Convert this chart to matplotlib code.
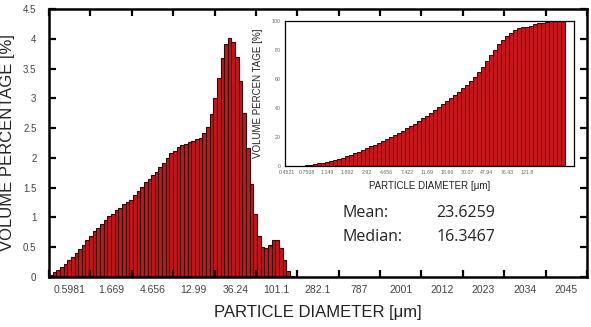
import numpy as np
import matplotlib.pyplot as plt
from matplotlib.ticker import FuncFormatter

# volume % per size channel (main histogram)
volume = [0.03, 0.08, 0.12, 0.16, 0.22, 0.29, 0.34, 0.40, 0.47, 0.54,
          0.62, 0.69, 0.77, 0.83, 0.89, 0.96, 1.02, 1.05, 1.12, 1.16,
          1.22, 1.26, 1.30, 1.37, 1.45, 1.51, 1.60, 1.65, 1.71, 1.77,
          1.85, 1.92, 2.00, 2.08, 2.12, 2.18, 2.21, 2.24, 2.26, 2.29,
          2.32, 2.34, 2.41, 2.52, 2.73, 3.00, 3.34, 3.67, 3.92, 4.02,
          3.94, 3.69, 3.29, 2.75, 2.16, 1.56, 1.05, 0.69, 0.51, 0.48,
          0.53, 0.62, 0.62, 0.49, 0.29, 0.10, 0.02]
main_labels = ['0.5981', '1.669', '4.656', '12.99', '36.24', '101.1', '282.1',
               '787', '2001', '2012', '2023', '2034', '2045']

# cumulative volume % (inset)
cumulative = [0, 0, 0, 0, 0.2, 0.5, 0.9, 1.2, 1.8, 2.3,
              2.8, 3.4, 4.0, 4.8, 5.5, 6.7, 7.6, 9.0, 9.9, 11.3,
              12.4, 13.6, 14.5, 16.1, 17.3, 18.6, 20.0, 21.4, 22.9, 24.4,
              26.0, 27.6, 29.3, 31.0, 32.8, 34.7, 36.6, 38.6, 40.6, 42.7,
              44.8, 46.9, 49.1, 51.3, 53.6, 56.0, 58.6, 61.4, 64.5, 68.0,
              72.4, 76.5, 80.0, 83.9, 86.9, 89.4, 91.9, 93.8, 94.9, 95.6,
              96.1, 96.8, 97.7, 98.4, 98.8, 99.1, 99.8, 99.8, 99.9, 100.0]
inset_labels = ['0.4521', '0.7508', '1.149', '1.892', '2.92', '4.656', '7.422',
                '11.69', '18.66', '30.07', '47.94', '76.43', '121.8']

stat_names = ['Mean:', 'Median:']
stat_values = ['23.6259', '16.3467']

red = '#c8141a'
edge = '#2b0808'
plt.rcParams['font.family'] = ['Liberation Sans', 'DejaVu Sans']

fig = plt.figure(figsize=(5.91, 3.27), dpi=100)

# main histogram
ax = fig.add_axes([0.0829, 0.1529, 0.9103, 0.8196])
x = np.arange(len(volume))
ax.bar(x, volume, width=1.0, color=red, edgecolor=edge, linewidth=0.8)
left, right = -0.5, 146.9
ax.set_xlim(left, right)
ax.set_ylim(0, 4.5)
step = (right - left) / len(main_labels)
edges = left + step * np.arange(len(main_labels) + 1)
ax.set_xticks(edges)
ax.set_xticklabels([])
ax.set_xticks(edges[:-1] + step / 2, minor=True)
ax.set_xticklabels(main_labels, minor=True)
ax.set_yticks(np.arange(0, 4.51, 0.5))
ax.yaxis.set_major_formatter(FuncFormatter(lambda v, p: '%g' % v))
ax.tick_params(which='major', direction='in', length=5, width=1.6,
               top=True, right=True, labelsize=7, labelcolor='#444444')
ax.tick_params(axis='y', pad=9)
ax.tick_params(axis='x', which='minor', length=0, pad=6,
               labelsize=7.5, labelcolor='#444444')
for s in ax.spines.values():
    s.set_linewidth(1.8)
ax.set_xlabel('PARTICLE DIAMETER [\u03bcm]', fontsize=12, labelpad=7, color='#222222')
ax.set_ylabel('VOLUME PERCENTAGE [%]', fontsize=12, labelpad=6, color='#222222')

# mean / median text
for i in range(len(stat_names)):
    yy = 0.349 - i * 0.0734
    fig.text(0.579, yy, stat_names[i], fontsize=11.5, family='Open Sans',
             color='#222222', va='center')
    fig.text(0.739, yy, stat_values[i], fontsize=11.5, family='Open Sans',
             color='#222222', va='center')

# inset cumulative
ins = fig.add_axes([0.4822, 0.4924, 0.489, 0.4434])
k = np.arange(len(cumulative))
ins.bar(k, cumulative, width=1.0, color=red, edgecolor=edge, linewidth=0.7)
ins.set_xlim(-0.5, 71.75)
ins.set_ylim(0, 100)
ins.set_xticks(np.arange(0, 5 * len(inset_labels), 5))
ins.set_xticklabels(inset_labels)
ins.set_yticks(np.arange(0, 101, 20))
ins.tick_params(length=0, labelsize=3.8, labelcolor='#666666', pad=3)
for s in ins.spines.values():
    s.set_linewidth(0.9)
ins.set_xlabel('PARTICLE DIAMETER [\u03bcm]', fontsize=7, labelpad=4, color='#222222')
ins.set_ylabel('VOLUME PERCEN TAGE [%]', fontsize=7, labelpad=6, color='#222222')

fig.savefig('out.png', dpi=100)
